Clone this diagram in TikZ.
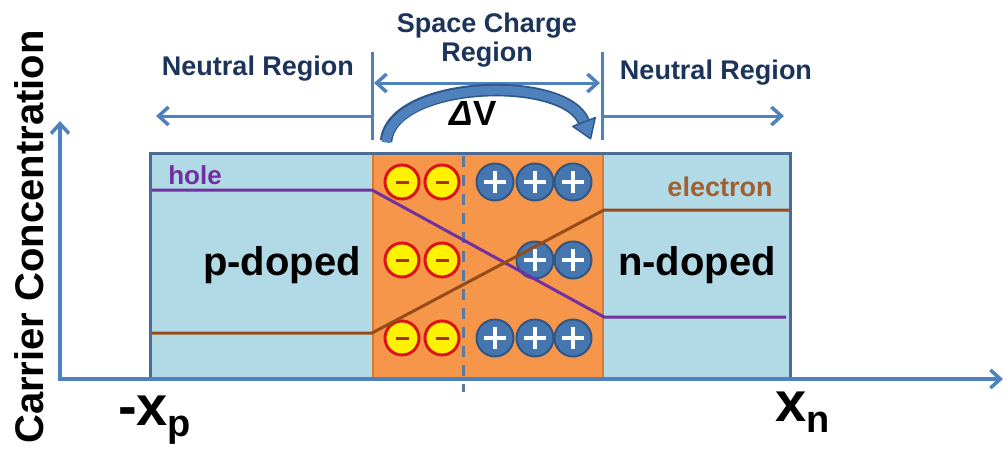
\documentclass[tikz,border=0pt]{standalone}
\usepackage{fontspec}
\setmainfont{Liberation Sans}
\usetikzlibrary{arrows.meta}
\definecolor{lblue}{RGB}{178,218,230}
\definecolor{orng}{RGB}{246,150,74}
\definecolor{orngdark}{RGB}{226,120,48}
\definecolor{boxline}{RGB}{74,108,148}
\definecolor{axisblue}{RGB}{79,129,189}
\definecolor{arcdark}{RGB}{46,88,138}
\definecolor{navy}{RGB}{28,52,90}
\definecolor{holecol}{RGB}{112,48,160}
\definecolor{elcol}{RGB}{150,76,24}
\definecolor{ellabel}{RGB}{160,96,50}
\definecolor{plusfill}{RGB}{70,118,176}
\definecolor{plusedge}{RGB}{50,85,130}
\definecolor{minusred}{RGB}{220,20,20}
\definecolor{minussign}{RGB}{170,50,20}
\definecolor{dashcol}{RGB}{90,120,160}
\newcommand\myfs[1]{\fontsize{#1}{#1}\selectfont}
\begin{document}
\begin{tikzpicture}[x=1pt,y=-1pt,
  regionlbl/.style={text=navy,font=\bfseries\fontsize{27}{29}\selectfont,inner sep=0pt,align=center},
  axisline/.style={draw=axisblue,line width=3.5pt},
  barb/.style={-{Straight Barb[length=10pt,width=18pt,line width=3.5pt]}},
  barbs/.style={{Straight Barb[length=10pt,width=18pt,line width=3.5pt]}-{Straight Barb[length=10pt,width=18pt,line width=3.5pt]}},
  minuscirc/.style={circle,minimum size=34pt,inner sep=0pt,draw=minusred,line width=3pt,fill=yellow,
    path picture={\draw[minussign,line width=3pt] ([xshift=-6.5pt]path picture bounding box.center) -- ([xshift=6.5pt]path picture bounding box.center);}},
  pluscirc/.style={circle,minimum size=37pt,inner sep=0pt,draw=plusedge,line width=2pt,fill=plusfill,
    path picture={\draw[white,line width=4pt] ([xshift=-11pt]path picture bounding box.center) -- ([xshift=11pt]path picture bounding box.center);
                  \draw[white,line width=4pt] ([yshift=-11pt]path picture bounding box.center) -- ([yshift=11pt]path picture bounding box.center);}},
  dopelbl/.style={font=\bfseries\myfs{40},inner sep=0pt},
  carrierline/.style={line width=3pt}
]
\useasboundingbox (0,0) rectangle (1006,455);

% regions
\fill[lblue] (150,153) rectangle (790,378);
\fill[orng] (372,153) rectangle (604,378);
\draw[orngdark,line width=2pt] (373,153) -- (373,378) (603,153) -- (603,378);

% dashed middle line
\coordinate (dtop) at (463,156);
\coordinate (dbot) at (463,392);
\draw[dashcol,line width=3pt,dash pattern=on 11pt off 8pt] (dtop) -- (dbot);

% charges
\foreach \y/\r in {182/a,260/b,338/c}{
  \node[minuscirc] (m1\r) at (402,\y) {};
  \node[minuscirc] (m2\r) at (442,\y) {};
}
\node[pluscirc] (p1a) at (495,182) {};
\node[pluscirc] (p2a) at (535,182) {};
\node[pluscirc] (p3a) at (573,182) {};
\node[pluscirc] (p2b) at (535,260) {};
\node[pluscirc] (p3b) at (573,260) {};
\node[pluscirc] (p1c) at (495,338) {};
\node[pluscirc] (p2c) at (535,338) {};
\node[pluscirc] (p3c) at (573,338) {};

% carrier lines
\coordinate (h0) at (150,190);
\coordinate (h1) at (372,190);
\coordinate (h2) at (604,317);
\coordinate (h3) at (786,317);
\draw[holecol,carrierline] (h0) -- (h1) -- (h2) -- (h3);
\coordinate (e0) at (150,333);
\coordinate (e1) at (372,333);
\coordinate (e2) at (604,210);
\coordinate (e3) at (790,210);
\draw[elcol,carrierline] (e0) -- (e1) -- (e2) -- (e3);

% outer box border
\draw[boxline,line width=3pt] (150,378) -- (150,153) -- (790,153) -- (790,378);

% labels in the boxes
\node[text=holecol,font=\bfseries\myfs{26},inner sep=0pt] (hole) at (195,175) {hole};
\node[text=ellabel,font=\bfseries\myfs{27},inner sep=0pt] (electron) at (720,187) {electron};
\node[dopelbl] (pdoped) at (282,265) {p-doped};
\node[dopelbl] (ndoped) at (697,265) {n-doped};

% axes
\coordinate (O) at (60,379);
\coordinate (ytip) at (60,121);
\coordinate (xtip) at (1003,379);
\draw[axisline,barb] (O) -- (ytip);
\draw[axisline,barb] ([xshift=-1.7pt]O) -- (xtip);

% region markers
\coordinate (tlT) at (372,52);
\coordinate (tlB) at (372,140);
\coordinate (trT) at (602,52);
\coordinate (trB) at (602,140);
\draw[axisblue,line width=3pt] (tlT) -- (tlB);
\draw[axisblue,line width=3pt] (trT) -- (trB);
\coordinate (nlA) at (372,116);
\coordinate (nlB) at (156,116);
\coordinate (nrA) at (602,116);
\coordinate (nrB) at (784,116);
\draw[axisblue,line width=3pt,barb] (nlA) -- (nlB);
\draw[axisblue,line width=3pt,barb] (nrA) -- (nrB);
\coordinate (scA) at (374,83);
\coordinate (scB) at (600,83);
\draw[axisblue,line width=3pt,barbs] (scA) -- (scB);

\node[regionlbl] (nl) at (258,69) {Neutral Region};
\node[regionlbl] (nr) at (716,73) {Neutral Region};
\node[regionlbl] (scr) at (487,40) {Space Charge\\Region};

% curved potential arrow
\coordinate (cvA) at (386,141);
\coordinate (cvB) at (584,122);
\draw[arcdark,line width=12.5pt] (cvA) .. controls (392,80) and (565,74) .. (cvB);
\draw[axisblue,line width=9pt] ([yshift=-1.5pt]cvA) .. controls (392,80) and (565,74) .. (cvB);
\draw[arcdark,fill=axisblue,line width=1.5pt,line join=round] (595.2,117.6) -- (590.6,138.7) -- (572.8,126.4) -- cycle;
\node[font=\bfseries\myfs{35},inner sep=0pt] (dv) at (473,113) {{\itshape Δ}V};

% axis labels
\node[rotate=90,font=\bfseries\myfs{40},inner sep=0pt] (cc) at (29,237) {Carrier Concentration};
\node[anchor=base west,inner sep=0pt] (xp) at (118,425) {\bfseries\myfs{56}-x\myfs{38}\raisebox{-11pt}{p}};
\node[anchor=base west,inner sep=0pt] (xn) at (775,421) {\bfseries\myfs{56}x\myfs{38}\raisebox{-11pt}{n}};
\end{tikzpicture}
\end{document}
